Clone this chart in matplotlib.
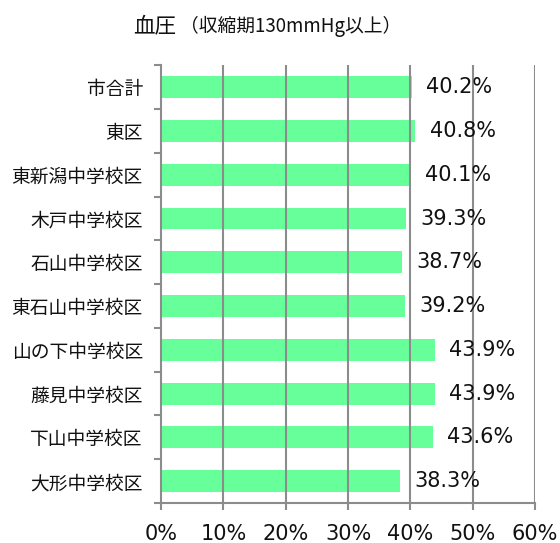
import numpy as np
import matplotlib
matplotlib.use("Agg")
import matplotlib.pyplot as plt
from matplotlib.ticker import FixedLocator

plt.rcParams['font.family'] = ['Noto Sans CJK JP', 'DejaVu Sans']

# 地区別 血圧(収縮期130mmHg以上)の割合
districts = ["市合計", "東区", "東新潟中学校区", "木戸中学校区", "石山中学校区",
             "東石山中学校区", "山の下中学校区", "藤見中学校区", "下山中学校区", "大形中学校区"]
rates = [40.2, 40.8, 40.1, 39.3, 38.7, 39.2, 43.9, 43.9, 43.6, 38.3]
xticks = [0, 10, 20, 30, 40, 50, 60]

BAR = "#66ff99"
GRID = "#8c8c8c"
NUM_FONT = ["DejaVu Sans", "Noto Sans CJK JP"]

fig = plt.figure(figsize=(5.6, 5.43), dpi=100)
ax = fig.add_axes([0.2875, 0.0737, 0.668, 0.806])

y = np.arange(len(districts))
ax.barh(y, rates, height=0.5, color=BAR, zorder=1)

ax.set_xlim(0, 60)
ax.set_ylim(len(districts) - 0.5, -0.5)

for v in xticks[1:]:
    ax.axvline(v, color=GRID, lw=1.5, zorder=2)

for yi, v in zip(y, rates):
    ax.text(v + 2.3, yi, f"{v:.1f}%", va="center", ha="left",
            fontsize=15, family=NUM_FONT, color="#111111", zorder=3)

ax.set_xticks(xticks)
ax.set_xticklabels([f"{v}%" for v in xticks], fontsize=15, family=NUM_FONT)
ax.tick_params(axis="x", length=5, width=1.5, color=GRID, pad=10, labelcolor="#111111")

ax.set_yticks(y)
ax.set_yticklabels(districts, fontsize=13.5)
ax.tick_params(axis="y", which="major", length=0, pad=13, labelcolor="#111111")
ax.yaxis.set_minor_locator(FixedLocator(np.arange(-0.5, len(districts), 1.0)))
ax.tick_params(axis="y", which="minor", length=5, width=1.5, color=GRID)

for s in ["top", "right"]:
    ax.spines[s].set_visible(False)
for s in ["left", "bottom"]:
    ax.spines[s].set_color(GRID)
    ax.spines[s].set_linewidth(1.5)

fig.text(133 / 560, 1 - 32 / 543, "血圧", fontsize=15.5, ha="left", va="baseline", color="#111111")
fig.text(180 / 560, 1 - 32 / 543, "（収縮期130mmHg以上）", fontsize=13.5,
         ha="left", va="baseline", color="#111111")

fig.savefig("out.png", dpi=100)
